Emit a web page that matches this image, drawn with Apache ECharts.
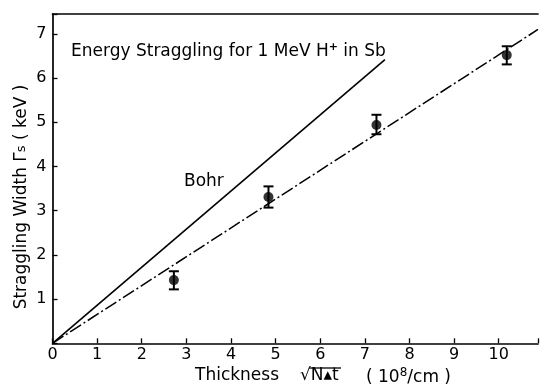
<!DOCTYPE html>
<html><head><meta charset="utf-8">
<script src="https://cdn.jsdelivr.net/npm/echarts@6/dist/echarts.min.js"></script>
<style>html,body{margin:0;padding:0;background:#fff}#c{width:541px;height:385px}</style>
</head><body><div id="c"></div>
<script>
// Data
const thickness = [2.72, 4.84, 7.26, 10.18];
const width = [1.43, 3.31, 4.94, 6.52];
const errLow = [1.22, 3.07, 4.73, 6.31];
const errHigh = [1.63, 3.55, 5.17, 6.72];
const bohrLine = [[0, 0], [7.45, 6.42]];
const fitLine = [[0, 0], [10.88, 7.10]];
const xTicks = [0,1,2,3,4,5,6,7,8,9,10];
const yTicks = [1,2,3,4,5,6,7];

const FONT = 'DejaVu Sans';
const chart = echarts.init(document.getElementById('c'), null, {renderer:'canvas'});
const pts = thickness.map((x,i)=>[x, width[i]]);
const errs = thickness.map((x,i)=>[x, errLow[i], errHigh[i]]);

chart.setOption({
  animation:false,
  backgroundColor:'#fff',
  grid:{left:52.5, right:0, top:14, bottom:41.7, containLabel:false},
  xAxis:[{
    type:'value', min:0, max:10.88, interval:1,
    axisLine:{lineStyle:{color:'#000', width:1.7}},
    axisTick:{inside:true, length:5, lineStyle:{color:'#000', width:1.3}},
    axisLabel:{color:'#000', fontFamily:FONT, fontSize:16, margin:4,
      formatter:v=> xTicks.includes(v) ? String(v) : ''},
    splitLine:{show:false}
  },{
    type:'value', position:'top', min:0, max:10.88,
    axisLine:{show:true, lineStyle:{color:'#000', width:1.7}},
    axisTick:{show:false}, axisLabel:{show:false}, splitLine:{show:false}
  }],
  yAxis:{
    type:'value', min:0, max:7.45, interval:1,
    axisLine:{lineStyle:{color:'#000', width:1.7}},
    axisTick:{inside:true, length:5, lineStyle:{color:'#000', width:1.3}},
    axisLabel:{color:'#000', fontFamily:FONT, fontSize:16, margin:6,
      formatter:v=> yTicks.includes(v) ? String(v) : ''},
    splitLine:{show:false}
  },
  series:[
    {type:'line', data:bohrLine, symbol:'none', lineStyle:{color:'#000', width:1.6}},
    {type:'line', data:fitLine, symbol:'none', lineStyle:{color:'#000', width:1.5, type:[13,3,2,3]}},
    {type:'custom', data:errs, renderItem:(params, api)=>{
      const x = api.value(0);
      const lo = api.coord([x, api.value(1)]);
      const hi = api.coord([x, api.value(2)]);
      const w = 5;
      const s = {stroke:'#000', lineWidth:2};
      return {type:'group', children:[
        {type:'line', shape:{x1:lo[0], y1:lo[1], x2:hi[0], y2:hi[1]}, style:s},
        {type:'line', shape:{x1:lo[0]-w, y1:lo[1], x2:lo[0]+w, y2:lo[1]}, style:s},
        {type:'line', shape:{x1:hi[0]-w, y1:hi[1], x2:hi[0]+w, y2:hi[1]}, style:s}
      ]};
    }},
    {type:'scatter', data:pts, symbol:'circle', symbolSize:10, itemStyle:{color:'#000'}}
  ],
  graphic:[
    {type:'text', left:71, top:42, style:{
      text:'Energy Straggling for 1 MeV H{sup|+} in Sb', fontFamily:FONT, fontSize:17, fill:'#000',
      rich:{sup:{fontSize:11, fontWeight:'bold', fontFamily:FONT, fill:'#000', padding:[0,0,9,0]}}}},
    {type:'text', left:184, top:173, style:{text:'Bohr', fontFamily:FONT, fontSize:17, fill:'#000'}},
    {type:'text', x:22, y:197, rotation:Math.PI/2, style:{
      text:'Straggling Width Γ{sub|s} ( keV )', fontFamily:FONT, fontSize:17, fill:'#000',
      align:'center', verticalAlign:'middle',
      rich:{sub:{fontSize:13, fontFamily:FONT, fill:'#000'}}}},
    {type:'text', left:195, top:367, style:{text:'Thickness', fontFamily:FONT, fontSize:17, fill:'#000'}},
    {type:'text', left:300, top:367, style:{text:'√N▴t', fontFamily:FONT, fontSize:17, fill:'#000'}},
    {type:'text', left:366, top:367, style:{
      text:'( 10{sup|8}/cm )', fontFamily:FONT, fontSize:17, fill:'#000',
      rich:{sup:{fontSize:12, fontFamily:FONT, fill:'#000', padding:[0,0,9,0]}}}},
    {type:'line', shape:{x1:309, y1:368, x2:341, y2:368}, style:{stroke:'#000', lineWidth:1.3}}
  ]
});
</script></body></html>
